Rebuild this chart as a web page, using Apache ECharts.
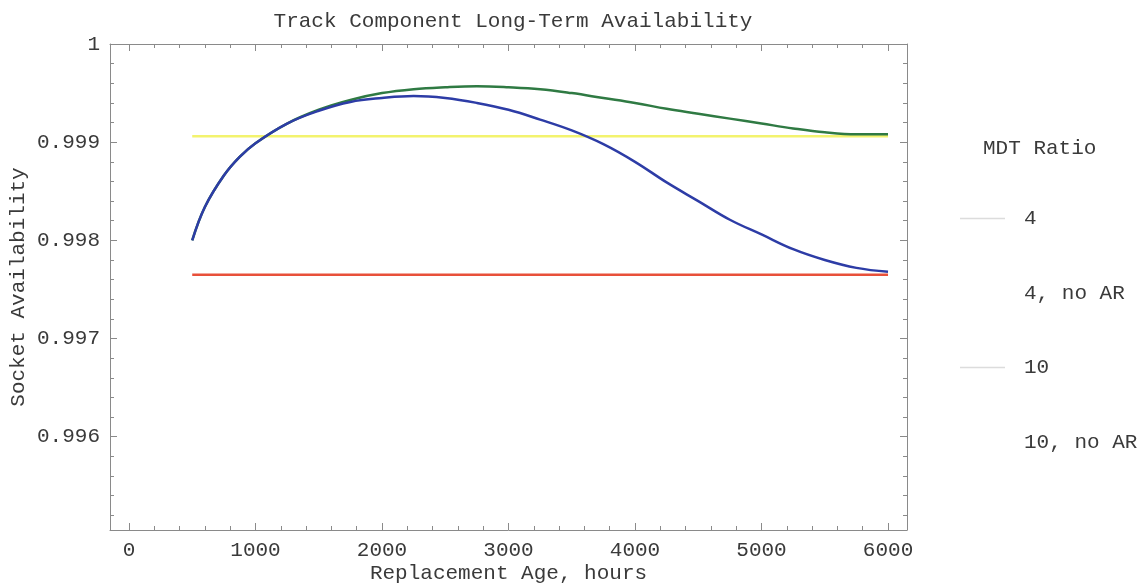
<!DOCTYPE html>
<html>
<head>
<meta charset="utf-8">
<script src="https://cdn.jsdelivr.net/npm/echarts@6/dist/echarts.min.js"></script>
<style>html,body{margin:0;padding:0;background:#fff;overflow:hidden;}#c{width:1144px;height:585px;}</style>
</head>
<body>
<div id="c"></div>
<script>
// ---- data ----
const titleText = 'Track Component Long-Term Availability';
const xName = 'Replacement Age, hours';
const yName = 'Socket Availability';
const legendTitle = 'MDT Ratio';
const seriesNames = ['4', '4, no AR', '10', '10, no AR'];

const ages = [500, 600, 750, 875, 1000, 1250, 1500, 1750, 2000, 2250, 2500, 2750, 3000,
              3250, 3500, 3750, 4000, 4250, 4500, 4750, 5000, 5250, 5500, 5750, 6000];
const mdt4 = [0.99800, 0.99834, 0.99866, 0.99885, 0.99899, 0.99919, 0.99933, 0.99943, 0.99950,
              0.99954, 0.99956, 0.99957, 0.99956, 0.99954, 0.99950, 0.99945, 0.99940, 0.99934,
              0.99929, 0.99924, 0.99919, 0.99914, 0.99910, 0.99908, 0.99908];
const mdt10 = [0.99800, 0.99834, 0.99866, 0.99885, 0.99899, 0.99919, 0.99932, 0.99941, 0.99945,
               0.99947, 0.99945, 0.99940, 0.99933, 0.99923, 0.99912, 0.99898, 0.99880, 0.99859,
               0.99840, 0.99821, 0.99806, 0.99791, 0.99780, 0.99772, 0.99768];
const flatAges = [500, 6000];
const mdt4NoAR = [0.99906, 0.99906];
const mdt10NoAR = [0.99765, 0.99765];

const xMajor = [0, 1000, 2000, 3000, 4000, 5000, 6000];
const xMinor = [200, 400, 600, 800, 1200, 1400, 1600, 1800, 2200, 2400, 2600, 2800,
                3200, 3400, 3600, 3800, 4200, 4400, 4600, 4800, 5200, 5400, 5600, 5800];
const yMajor = [0.996, 0.997, 0.998, 0.999, 1];
const yMinor = [0.9952, 0.9954, 0.9956, 0.9958, 0.9962, 0.9964, 0.9966, 0.9968,
                0.9972, 0.9974, 0.9976, 0.9978, 0.9982, 0.9984, 0.9986, 0.9988,
                0.9992, 0.9994, 0.9996, 0.9998];

// ---- chart ----
const FONT = '"Liberation Mono", "DejaVu Sans Mono", monospace';
const TXT = '#3a3a3a';
const FRAME = '#8a8a8a';
const FS = 21;
const pairs = (xs, ys) => xs.map((x, i) => [x, ys[i]]);

const chart = echarts.init(document.getElementById('c'), null, {renderer: 'canvas', width: 1144, height: 585});

function xAx(pos, major, showLabel) {
  return {
    type: 'value', position: pos, min: -150, max: 6150,
    axisLine: {show: major, onZero: false, lineStyle: {color: FRAME, width: 1}},
    axisTick: {show: true, inside: true, length: major ? 7 : 4,
               customValues: major ? xMajor : xMinor, lineStyle: {color: FRAME}},
    axisLabel: {show: showLabel, customValues: xMajor, fontFamily: FONT, fontSize: FS,
                color: TXT, margin: 10, formatter: v => String(v)},
    splitLine: {show: false},
    name: showLabel ? xName : '', nameLocation: 'middle', nameGap: 33, nameMoveOverlap: false,
    nameTextStyle: {fontFamily: FONT, fontSize: FS, color: TXT}
  };
}
function yAx(pos, major, showLabel) {
  return {
    type: 'value', position: pos, min: 0.99505, max: 1,
    axisLine: {show: major, onZero: false, lineStyle: {color: FRAME, width: 1}},
    axisTick: {show: true, inside: true, length: major ? 7 : 4,
               customValues: major ? yMajor : yMinor, lineStyle: {color: FRAME}},
    axisLabel: {show: showLabel, customValues: yMajor, fontFamily: FONT, fontSize: FS,
                color: TXT, margin: 10,
                formatter: v => (Math.abs(v - 1) < 1e-9 ? '1' : v.toFixed(3))},
    splitLine: {show: false},
    name: showLabel ? yName : '', nameLocation: 'middle', nameGap: 81, nameMoveOverlap: false,
    nameTextStyle: {fontFamily: FONT, fontSize: FS, color: TXT}
  };
}

const option = {
  backgroundColor: '#fff',
  animation: false,
  title: [
    {text: titleText, left: 508, top: 6, textAlign: 'center',
     textStyle: {fontFamily: FONT, fontSize: FS, fontWeight: 'normal', color: TXT}},
    {text: legendTitle, left: 978, top: 133,
     textStyle: {fontFamily: FONT, fontSize: FS, fontWeight: 'normal', color: TXT}}
  ],
  grid: {left: 110, right: 237, top: 44, bottom: 55, containLabel: false, outerBoundsMode: 'none'},
  xAxis: [xAx('bottom', true, true), xAx('bottom', false, false),
          xAx('top', true, false), xAx('top', false, false)],
  yAxis: [yAx('left', true, true), yAx('left', false, false),
          yAx('right', true, false), yAx('right', false, false)],
  legend: {
    orient: 'vertical', left: 955, top: 203, itemGap: 53.5,
    itemWidth: 45, itemHeight: 1.5, icon: 'rect',
    textStyle: {fontFamily: FONT, fontSize: FS, color: TXT, padding: [0, 0, 0, 14]},
    data: [
      {name: seriesNames[0], itemStyle: {color: '#dcdcdc'}},
      {name: seriesNames[1], itemStyle: {color: 'rgba(0,0,0,0)'}},
      {name: seriesNames[2], itemStyle: {color: '#dcdcdc'}},
      {name: seriesNames[3], itemStyle: {color: 'rgba(0,0,0,0)'}}
    ]
  },
  series: [
    {name: seriesNames[1], type: 'line', showSymbol: false, data: pairs(flatAges, mdt4NoAR),
     lineStyle: {color: '#f3f36e', width: 2.5}, itemStyle: {color: '#f3f36e'}},
    {name: seriesNames[3], type: 'line', showSymbol: false, data: pairs(flatAges, mdt10NoAR),
     lineStyle: {color: '#e8503a', width: 2.5}, itemStyle: {color: '#e8503a'}},
    {name: seriesNames[0], type: 'line', showSymbol: false, smooth: 0.4, data: pairs(ages, mdt4),
     lineStyle: {color: '#2f7a43', width: 2.5}, itemStyle: {color: '#2f7a43'}},
    {name: seriesNames[2], type: 'line', showSymbol: false, smooth: 0.4, data: pairs(ages, mdt10),
     lineStyle: {color: '#2d3ca6', width: 2.5}, itemStyle: {color: '#2d3ca6'}}
  ]
};
chart.setOption(option);
</script>
</body>
</html>
